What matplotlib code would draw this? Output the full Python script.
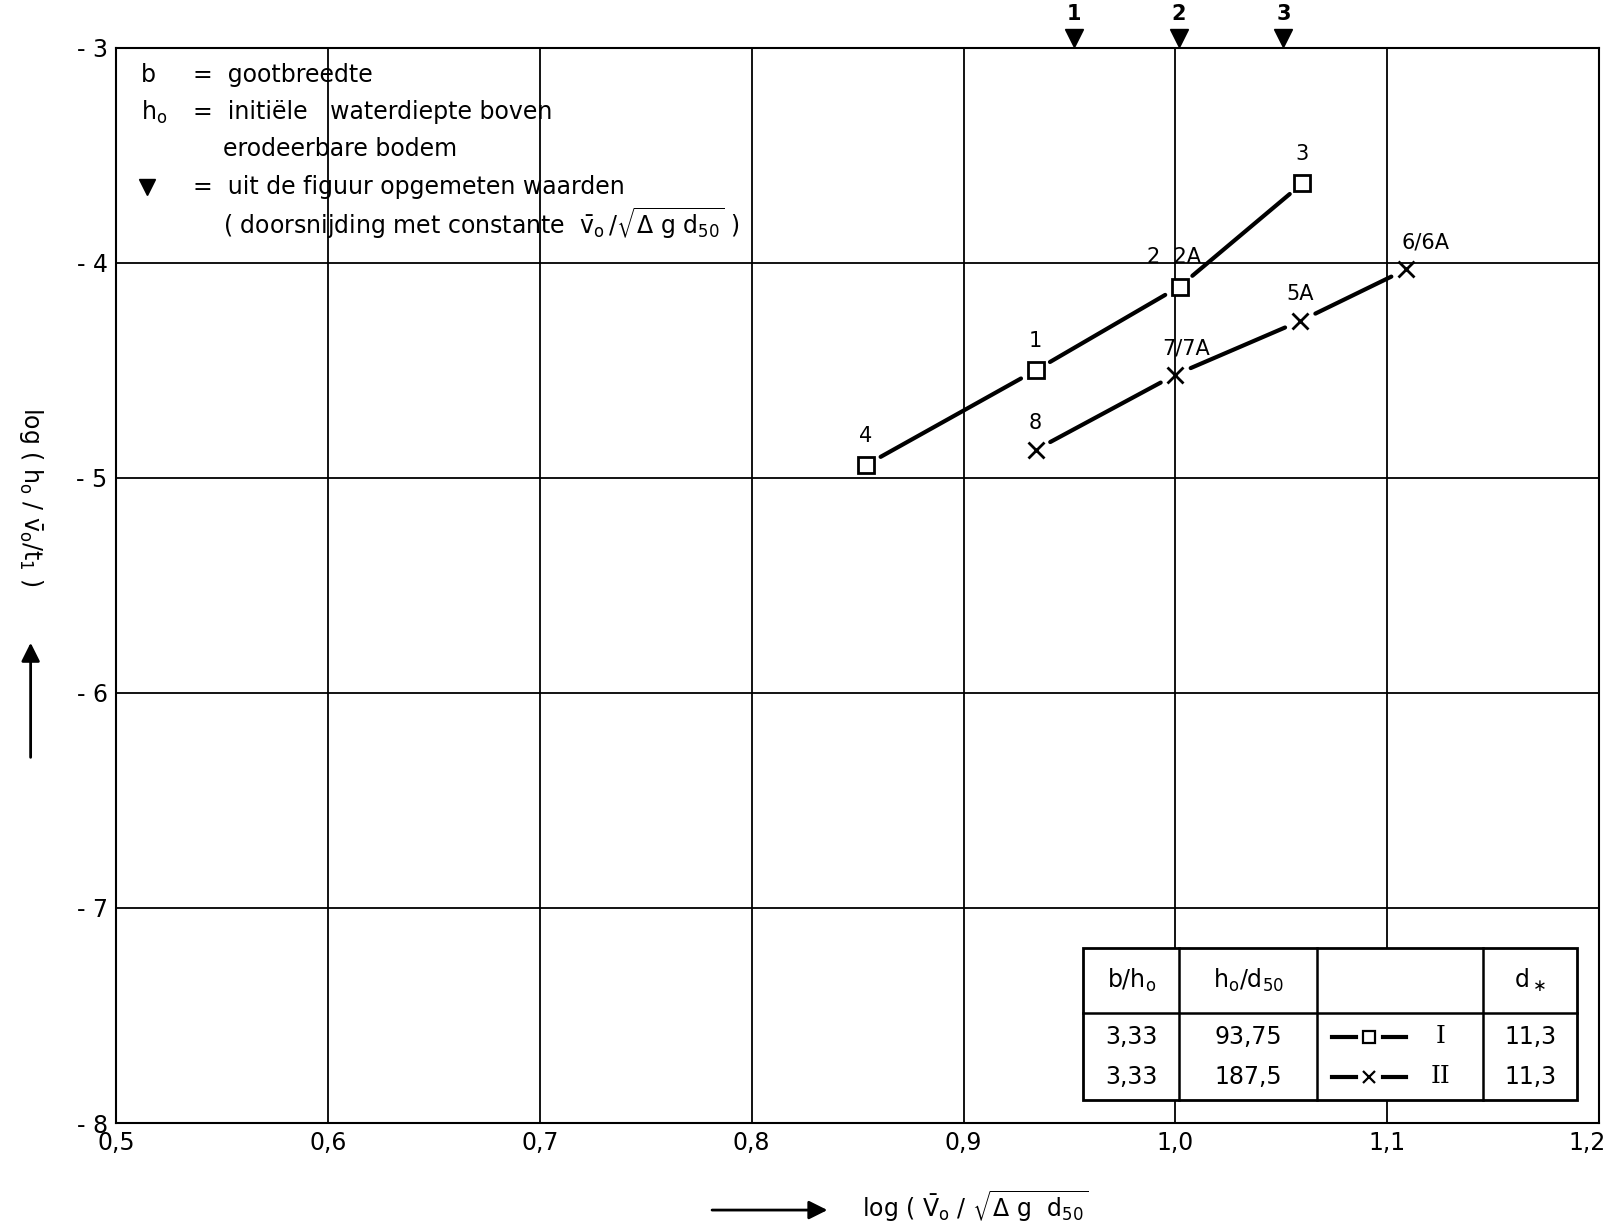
import matplotlib
matplotlib.use("Agg")
import matplotlib.pyplot as plt
from matplotlib.patches import Rectangle, FancyArrowPatch
from matplotlib.transforms import ScaledTranslation

plt.rcParams['font.family'] = ['DejaVu Sans']
plt.rcParams['mathtext.fontset'] = 'dejavusans'

# ---- data ----
x_I = [0.854, 0.934, 1.002, 1.060]
y_I = [-4.94, -4.50, -4.11, -3.63]
lab_I = ["4", "1", "2  2A", "3"]

x_II = [0.934, 1.000, 1.059, 1.109]
y_II = [-4.87, -4.52, -4.27, -4.03]
lab_II = ["8", "7/7A", "5A", "6/6A"]

tri_x = [0.952, 1.0015, 1.051]
tri_lab = ["1", "2", "3"]

xticks = [0.5, 0.6, 0.7, 0.8, 0.9, 1.0, 1.1, 1.2]
xticklabels = ["0,5", "0,6", "0,7", "0,8", "0,9", "1,0", "1,1", "1,2"]
yticks = [-3, -4, -5, -6, -7, -8]
yticklabels = ["- 3", "- 4", "- 5", "- 6", "- 7", "- 8"]

table_header = ["b/h$_\\mathrm{o}$", "h$_\\mathrm{o}$/d$_{50}$", "", "d$_\\ast$"]
table_rows = [["3,33", "93,75", "I", "11,3"],
              ["3,33", "187,5", "II", "11,3"]]

fig = plt.figure(figsize=(16.12, 12.26), dpi=100)
ax = fig.add_axes([0.072, 0.084, 0.920, 0.877])
ax.set_xlim(0.5, 1.2)
ax.set_ylim(-8, -3)
ax.set_xticks(xticks)
# last label drawn separately so it stays inside the figure
ax.set_xticklabels(xticklabels[:-1] + [""], fontsize=17)
ax.annotate(xticklabels[-1], (xticks[-1], 0), xycoords=('data', 'axes fraction'),
            xytext=(-9, -6), textcoords='offset points', ha='center', va='top',
            fontsize=17, annotation_clip=False)
ax.set_yticks(yticks)
ax.set_yticklabels(yticklabels, fontsize=17)
ax.tick_params(length=0, pad=6)
ax.grid(True, color='black', linewidth=1.3, zorder=0)
for s in ax.spines.values():
    s.set_linewidth(1.5)
ax.set_axisbelow(True)

# series lines: segments stop short of the markers
def draw_series(xs, ys, marker, ms):
    for i in range(len(xs) - 1):
        ax.annotate("", xy=(xs[i + 1], ys[i + 1]), xytext=(xs[i], ys[i]),
                    arrowprops=dict(arrowstyle='-', lw=3, color='black',
                                    shrinkA=12, shrinkB=12), zorder=2)
    if marker == 's':
        ax.plot(xs, ys, ls='none', marker='s', ms=ms, mfc='white', mec='black', mew=2, zorder=4)
    else:
        ax.plot(xs, ys, ls='none', marker='x', ms=ms, mec='black', mew=2, zorder=4)

draw_series(x_I, y_I, 's', 11)
draw_series(x_II, y_II, 'x', 12)

offs_I = [(0, 14), (0, 14), (-4, 14), (0, 14)]
for x, y, t, o in zip(x_I, y_I, lab_I, offs_I):
    ax.annotate(t, (x, y), xytext=o, textcoords='offset points', ha='center',
                va='bottom', fontsize=15, zorder=5)
offs_II = [(0, 12), (8, 12), (0, 12), (14, 12)]
for x, y, t, o in zip(x_II, y_II, lab_II, offs_II):
    ax.annotate(t, (x, y), xytext=o, textcoords='offset points', ha='center',
                va='bottom', fontsize=15, zorder=5)

# top triangles (tip touching the top border)
tri_tr = ax.get_xaxis_transform() + ScaledTranslation(0, 7 / 72, fig.dpi_scale_trans)
for x, t in zip(tri_x, tri_lab):
    ax.plot([x], [1.0], transform=tri_tr, marker='v', ms=13,
            color='black', clip_on=False, zorder=6)
    ax.annotate(t, (x, 1.0), xycoords=('data', 'axes fraction'), xytext=(0, 17),
                textcoords='offset points', ha='center', va='bottom',
                fontsize=15, fontweight='bold', annotation_clip=False)

# legend text top-left
fs = 17
lines_y = [0.975, 0.940, 0.906, 0.871, 0.837]
ax.text(0.017, lines_y[0], "b", transform=ax.transAxes, fontsize=fs, va='center')
ax.text(0.052, lines_y[0], "=  gootbreedte", transform=ax.transAxes, fontsize=fs, va='center')
ax.text(0.017, lines_y[1], "h$_\\mathrm{o}$", transform=ax.transAxes, fontsize=fs, va='center')
ax.text(0.052, lines_y[1], "=  initiële   waterdiepte boven", transform=ax.transAxes, fontsize=fs, va='center')
ax.text(0.072, lines_y[2], "erodeerbare bodem", transform=ax.transAxes, fontsize=fs, va='center')
ax.plot([0.021], [lines_y[3]], transform=ax.transAxes, marker='v', ms=11, color='black')
ax.text(0.052, lines_y[3], "=  uit de figuur opgemeten waarden", transform=ax.transAxes, fontsize=fs, va='center')
ax.text(0.072, lines_y[4], "( doorsnijding met constante  $\\bar{\\mathrm{v}}_\\mathrm{o}\\,/\\sqrt{\\Delta\\ \\mathrm{g}\\ \\mathrm{d}_{50}}$ )",
        transform=ax.transAxes, fontsize=fs, va='center')

# table in bottom-right
cx = [0.652, 0.717, 0.810, 0.922, 0.985]
ry = [0.163, 0.102, 0.021]
ax.add_patch(Rectangle((cx[0], ry[2]), cx[-1] - cx[0], ry[0] - ry[2], transform=ax.transAxes,
                       facecolor='white', edgecolor='black', lw=2, zorder=7))
for c in cx[1:-1]:
    ax.plot([c, c], [ry[2], ry[0]], transform=ax.transAxes, color='black', lw=1.8, zorder=8)
ax.plot([cx[0], cx[-1]], [ry[1], ry[1]], transform=ax.transAxes, color='black', lw=1.8, zorder=8)
hy = (ry[0] + ry[1]) / 2
for i, h in enumerate(table_header):
    ax.text((cx[i] + cx[i + 1]) / 2, hy, h, transform=ax.transAxes, ha='center', va='center',
            fontsize=17, zorder=9)
row_y = [0.080, 0.043]
for r, yy in zip(table_rows, row_y):
    ax.text((cx[0] + cx[1]) / 2, yy, r[0], transform=ax.transAxes, ha='center', va='center', fontsize=17, zorder=9)
    ax.text((cx[1] + cx[2]) / 2, yy, r[1], transform=ax.transAxes, ha='center', va='center', fontsize=17, zorder=9)
    ax.text((cx[3] + cx[4]) / 2, yy, r[3], transform=ax.transAxes, ha='center', va='center', fontsize=17, zorder=9)
    ax.text(0.893, yy, r[2], transform=ax.transAxes, ha='center', va='center', fontsize=18,
            family='DejaVu Serif', zorder=9)
# legend samples
mk = ['s', 'x']
for m, yy in zip(mk, row_y):
    ax.plot([0.820, 0.836], [yy, yy], transform=ax.transAxes, color='black', lw=3, zorder=9)
    ax.plot([0.854, 0.870], [yy, yy], transform=ax.transAxes, color='black', lw=3, zorder=9)
    ax.plot([0.845], [yy], transform=ax.transAxes, marker=m, ms=8, mfc='white', mec='black',
            mew=1.6, zorder=9)

# axis labels with arrows
fig.text(0.019, 0.595, "log ( h$_\\mathrm{o}$ / $\\bar{\\mathrm{v}}_\\mathrm{o}$/t$_1$ )", rotation=270,
         fontsize=17, ha='center', va='center')
fig.add_artist(FancyArrowPatch((0.019, 0.380), (0.019, 0.478), transform=fig.transFigure,
                               arrowstyle='-|>', mutation_scale=28, lw=2, color='black'))
fig.text(0.535, 0.016, "log ( $\\bar{\\mathrm{V}}_\\mathrm{o}$ / $\\sqrt{\\Delta\\ \\mathrm{g}\\ \\ \\mathrm{d}_{50}}$",
         fontsize=17, ha='left', va='center')
fig.add_artist(FancyArrowPatch((0.440, 0.013), (0.515, 0.013), transform=fig.transFigure,
                               arrowstyle='-|>', mutation_scale=28, lw=2, color='black'))

fig.savefig("out.png", dpi=100)
